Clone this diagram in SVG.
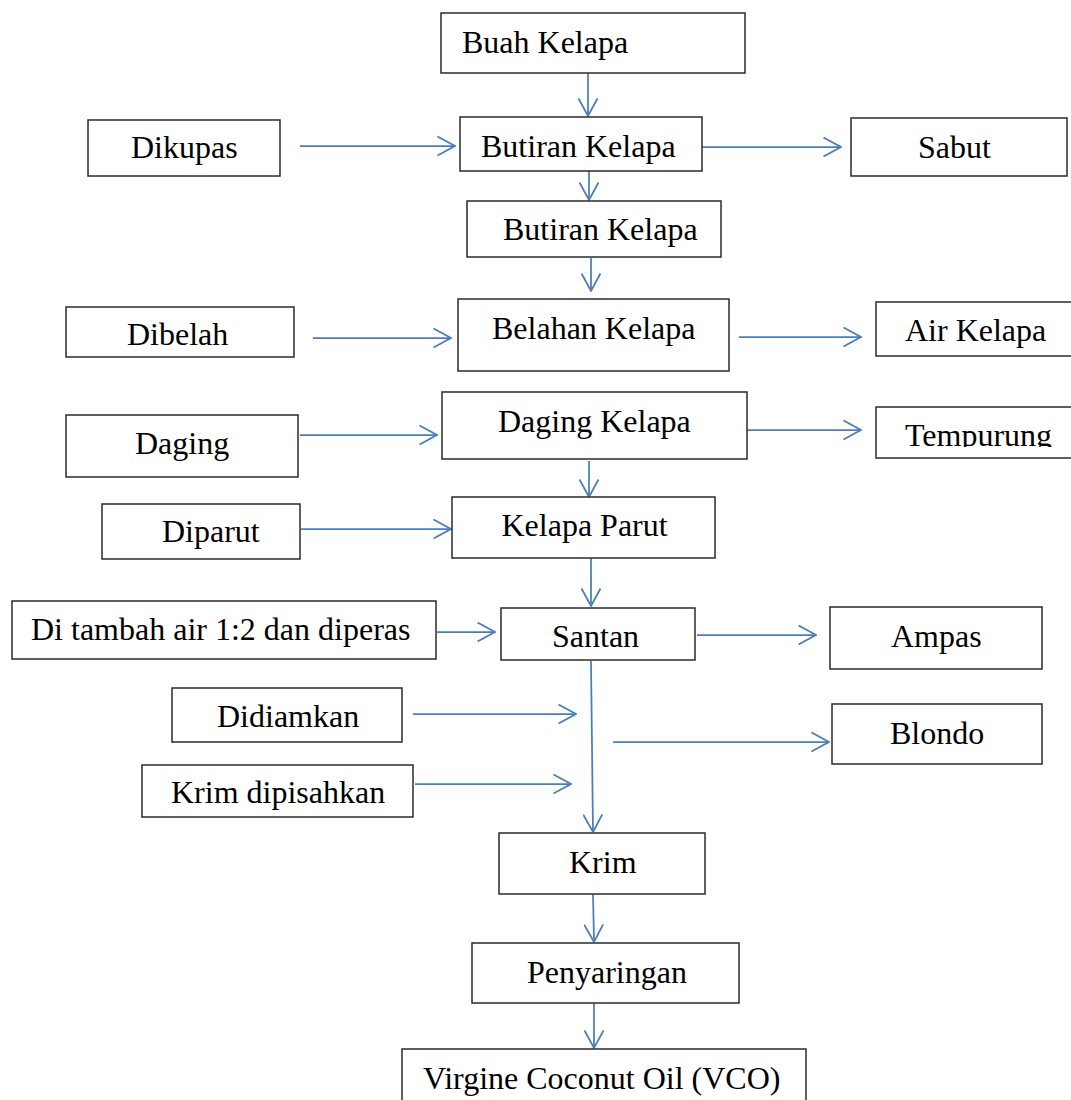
<svg xmlns="http://www.w3.org/2000/svg" width="1071" height="1100" viewBox="0 0 1071 1100">
<style>
.box{fill:#fff;stroke:#2b2b2b;stroke-width:1.5}
.t{font-family:"Liberation Serif","Times New Roman",serif;font-size:32px;fill:#000}
.c{fill:none;stroke:#4a7ebb;stroke-width:1.75}
</style>
<defs>
<marker id="ah" viewBox="0 0 20 20" refX="19.5" refY="10" markerWidth="20" markerHeight="20" markerUnits="userSpaceOnUse" orient="auto">
<path d="M2,0.5 L19.5,10 L2,19.5" fill="none" stroke="#4a7ebb" stroke-width="1.75"/>
</marker>
<clipPath id="tclip"><rect x="876" y="407" width="200" height="40"/></clipPath>
</defs>
<rect width="1071" height="1100" fill="#fff"/>
<g id="connectors">
<path class="c" marker-end="url(#ah)" d="M588,73 L588,116"/>
<path class="c" marker-end="url(#ah)" d="M300,146 L455,146"/>
<path class="c" marker-end="url(#ah)" d="M701,147 L841,147"/>
<path class="c" marker-end="url(#ah)" d="M589,162 L589,200"/>
<path class="c" marker-end="url(#ah)" d="M591,258 L591,291"/>
<path class="c" marker-end="url(#ah)" d="M313,338 L451,338"/>
<path class="c" marker-end="url(#ah)" d="M739,337 L861,337"/>
<path class="c" marker-end="url(#ah)" d="M300,435 L437,435"/>
<path class="c" marker-end="url(#ah)" d="M747,430 L861,430"/>
<path class="c" marker-end="url(#ah)" d="M589,461 L589,497"/>
<path class="c" marker-end="url(#ah)" d="M301,529 L451,529"/>
<path class="c" marker-end="url(#ah)" d="M591,558 L591,606"/>
<path class="c" marker-end="url(#ah)" d="M437,632 L495,632"/>
<path class="c" marker-end="url(#ah)" d="M697,635 L816,635"/>
<path class="c" marker-end="url(#ah)" d="M413,714 L576,714"/>
<path class="c" marker-end="url(#ah)" d="M613,742 L829,742"/>
<path class="c" marker-end="url(#ah)" d="M415,784 L571,784"/>
<path class="c" marker-end="url(#ah)" d="M591,661 L593,832"/>
<path class="c" marker-end="url(#ah)" d="M593,894 L594,942"/>
<path class="c" marker-end="url(#ah)" d="M594,1003 L594,1048"/>
</g>
<g id="n-buah"><rect class="box" x="441" y="13" width="304" height="60"/><text class="t" x="462" y="53">Buah Kelapa</text></g>
<g id="n-dikupas"><rect class="box" x="88" y="120" width="192" height="56"/><text class="t" x="131" y="158">Dikupas</text></g>
<g id="n-butiran1"><rect class="box" x="460" y="117" width="242" height="54"/><text class="t" x="481" y="157">Butiran Kelapa</text></g>
<g id="n-sabut"><rect class="box" x="851" y="118" width="216" height="58"/><text class="t" x="918" y="158">Sabut</text></g>
<g id="n-butiran2"><rect class="box" x="467" y="201" width="254" height="56"/><text class="t" x="503" y="240">Butiran Kelapa</text></g>
<g id="n-dibelah"><rect class="box" x="66" y="307" width="228" height="50"/><text class="t" x="127" y="345">Dibelah</text></g>
<g id="n-belahan"><rect class="box" x="458" y="299" width="271" height="72"/><text class="t" x="492" y="339">Belahan Kelapa</text></g>
<g id="n-air"><rect class="box" x="876" y="302" width="200" height="54"/><text class="t" x="905" y="341">Air Kelapa</text></g>
<g id="n-daging"><rect class="box" x="66" y="415" width="232" height="62"/><text class="t" x="135" y="454">Daging</text></g>
<g id="n-dagingkelapa"><rect class="box" x="442" y="392" width="305" height="67"/><text class="t" x="498" y="432">Daging Kelapa</text></g>
<g id="n-tempurung"><rect class="box" x="876" y="407" width="200" height="51"/><text class="t" x="905" y="445.5" clip-path="url(#tclip)">Tempurung</text></g>
<g id="n-diparut"><rect class="box" x="102" y="504" width="198" height="55"/><text class="t" x="162" y="542">Diparut</text></g>
<g id="n-kelapaparut"><rect class="box" x="452" y="497" width="263" height="61"/><text class="t" x="501.5" y="536">Kelapa Parut</text></g>
<g id="n-ditambah"><rect class="box" x="12" y="601" width="424" height="58"/><text class="t" x="31" y="640">Di tambah air 1:2 dan diperas</text></g>
<g id="n-santan"><rect class="box" x="501" y="608" width="194" height="52"/><text class="t" x="552" y="647">Santan</text></g>
<g id="n-ampas"><rect class="box" x="830" y="607" width="212" height="62"/><text class="t" x="891" y="647">Ampas</text></g>
<g id="n-didiamkan"><rect class="box" x="172" y="688" width="230" height="54"/><text class="t" x="217" y="727">Didiamkan</text></g>
<g id="n-blondo"><rect class="box" x="832" y="704" width="210" height="60"/><text class="t" x="890" y="744">Blondo</text></g>
<g id="n-krimdipisahkan"><rect class="box" x="142" y="765" width="271" height="52"/><text class="t" x="171" y="803">Krim dipisahkan</text></g>
<g id="n-krim"><rect class="box" x="499" y="833" width="206" height="61"/><text class="t" x="569" y="873">Krim</text></g>
<g id="n-penyaringan"><rect class="box" x="472" y="943" width="267" height="60"/><text class="t" x="527" y="983">Penyaringan</text></g>
<g id="n-vco"><rect class="box" x="402" y="1049" width="404" height="60"/><text class="t" x="423" y="1089">Virgine Coconut Oil (VCO)</text></g>
</svg>
